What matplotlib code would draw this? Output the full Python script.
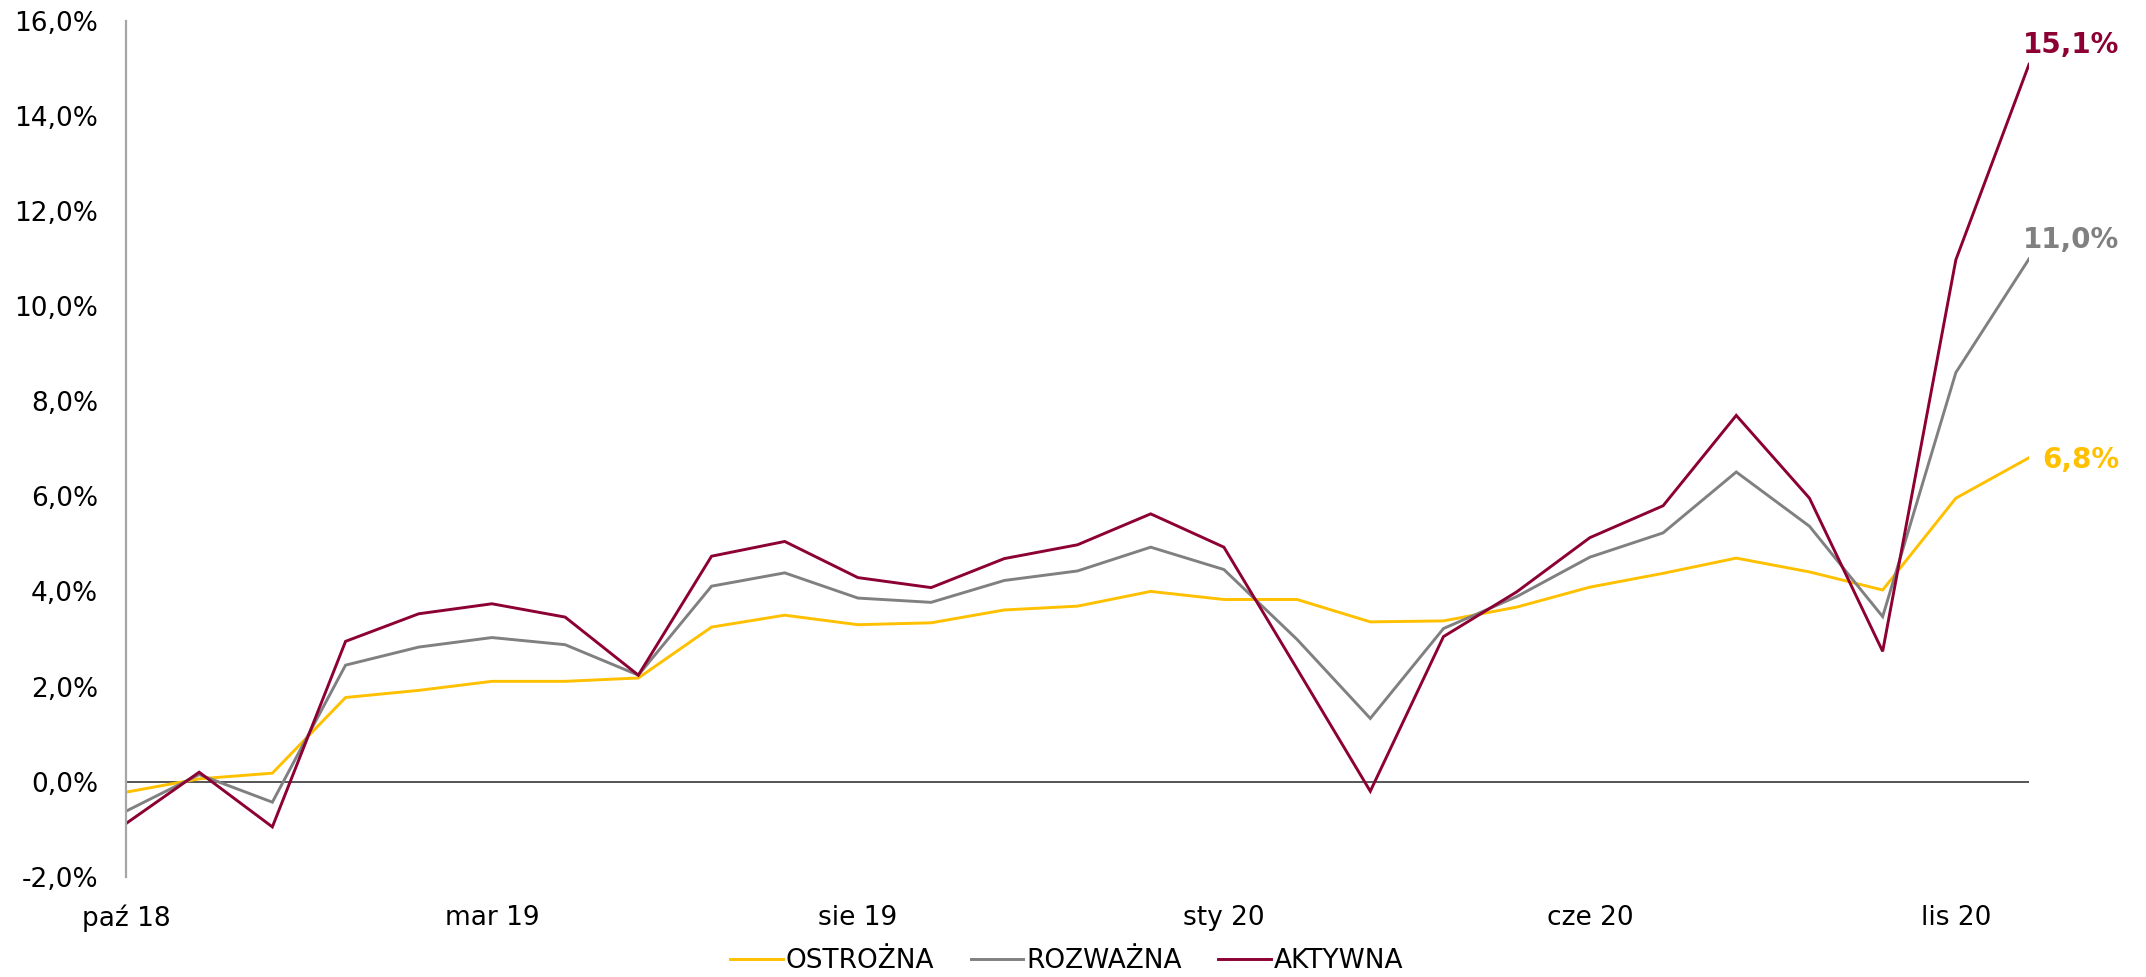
import matplotlib
matplotlib.use('Agg')
import matplotlib.pyplot as plt
from matplotlib.ticker import FuncFormatter

# months Oct 2018 .. Dec 2020
months = ['paź 18', 'lis 18', 'gru 18', 'sty 19', 'lut 19', 'mar 19', 'kwi 19',
          'maj 19', 'cze 19', 'lip 19', 'sie 19', 'wrz 19', 'paź 19', 'lis 19',
          'gru 19', 'sty 20', 'lut 20', 'mar 20', 'kwi 20', 'maj 20', 'cze 20',
          'lip 20', 'sie 20', 'wrz 20', 'paź 20', 'lis 20', 'gru 20']

# cumulative return in %
ostrozna = [-0.22, 0.06, 0.18, 1.77, 1.92, 2.11, 2.11, 2.18, 3.25, 3.50, 3.30,
            3.34, 3.61, 3.69, 4.00, 3.83, 3.83, 3.36, 3.38, 3.67, 4.09, 4.38,
            4.70, 4.41, 4.03, 5.96, 6.81]
rozwazna = [-0.62, 0.15, -0.43, 2.45, 2.83, 3.03, 2.88, 2.24, 4.11, 4.39, 3.86,
            3.77, 4.23, 4.43, 4.93, 4.46, 2.99, 1.33, 3.22, 3.89, 4.72, 5.23,
            6.51, 5.37, 3.47, 8.60, 10.99]
aktywna = [-0.88, 0.20, -0.95, 2.95, 3.53, 3.74, 3.46, 2.24, 4.74, 5.05, 4.29,
           4.08, 4.69, 4.98, 5.63, 4.93, 2.37, -0.20, 3.05, 3.99, 5.13, 5.80,
           7.70, 5.96, 2.74, 10.97, 15.08]

series_names = ['OSTROŻNA', 'ROZWAŻNA', 'AKTYWNA']
series_colors = ['#FFC000', '#808080', '#8C0033']
label_tick_every = 5


def pct_fmt(v, pos=None):
    return '{:.1f}%'.format(v).replace('.', ',')


def plot_funds(fig_name='out.png', font_size=19):
    plt.rcParams['font.family'] = 'DejaVu Sans'
    fig = plt.figure(figsize=(21.46, 9.77), dpi=100)
    ax = fig.add_axes([0.0587, 0.1025, 0.8868, 0.8765])

    x = list(range(len(months)))
    all_series = [ostrozna, rozwazna, aktywna]
    for values, name, color in zip(all_series, series_names, series_colors):
        ax.plot(x, values, color=color, lw=2.1, label=name, solid_joinstyle='miter')

    # zero line across the plot
    ax.axhline(0, color='#262626', lw=1.1, zorder=1)

    ax.set_xlim(0, len(months) - 1)
    ax.set_ylim(-2, 16)
    ax.set_yticks(range(-2, 17, 2))
    ax.yaxis.set_major_formatter(FuncFormatter(pct_fmt))
    ticks = x[::label_tick_every]
    ax.set_xticks(ticks)
    ax.set_xticklabels([months[i] for i in ticks])
    ax.tick_params(axis='y', length=0, pad=20, labelsize=font_size)
    ax.tick_params(axis='x', length=0, pad=20, labelsize=font_size)

    for side in ['top', 'right', 'bottom']:
        ax.spines[side].set_visible(False)
    ax.spines['left'].set_color('#A6A6A6')
    ax.spines['left'].set_linewidth(1.6)

    # end labels
    offsets = [(90, -2), (90, 19), (90, 19)]
    for values, color, off in zip(all_series, series_colors, offsets):
        ax.annotate(pct_fmt(values[-1]), xy=(x[-1], values[-1]),
                    xytext=off, textcoords='offset pixels',
                    ha='right', va='center', color=color,
                    fontsize=20, fontweight='bold', annotation_clip=False)

    fig.legend(loc='center', bbox_to_anchor=(0.497, 0.016), ncol=3,
               frameon=False, fontsize=font_size, handlelength=2.0,
               handletextpad=0.1, columnspacing=1.4)

    fig.savefig(fig_name, dpi=100, facecolor='white')


if __name__ == '__main__':
    plot_funds()
